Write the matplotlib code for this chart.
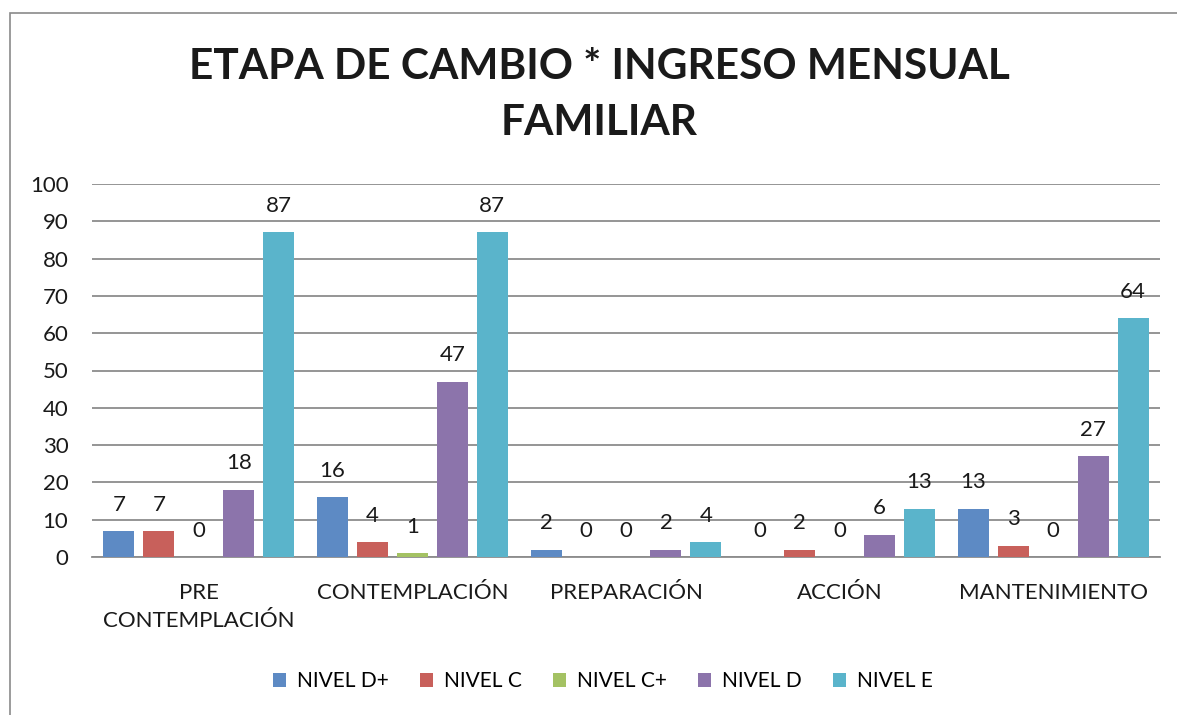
import matplotlib
matplotlib.use("Agg")
import matplotlib.pyplot as plt
from matplotlib.patches import Rectangle
import numpy as np

plt.rcParams['font.family'] = ['Lato', 'DejaVu Sans']

title = "ETAPA DE CAMBIO * INGRESO MENSUAL\nFAMILIAR"
categories = ["PRE\nCONTEMPLACIÓN", "CONTEMPLACIÓN", "PREPARACIÓN", "ACCIÓN", "MANTENIMIENTO"]
series_names = ["NIVEL D+", "NIVEL C", "NIVEL C+", "NIVEL D", "NIVEL E"]
nivel_d_plus = [7, 16, 2, 0, 13]
nivel_c = [7, 4, 0, 2, 3]
nivel_c_plus = [0, 1, 0, 0, 0]
nivel_d = [18, 47, 2, 6, 27]
nivel_e = [87, 87, 4, 13, 64]
yticks = list(range(0, 101, 10))

series = [nivel_d_plus, nivel_c, nivel_c_plus, nivel_d, nivel_e]
colors = ["#5D8AC4", "#C8605B", "#A4C263", "#8C74AB", "#5AB4CB"]

fig = plt.figure(figsize=(11.77, 7.15), dpi=100)
W, H = 1177, 715

# outer chart frame
fig.add_artist(Rectangle((10 / W, -0.1), 1.2, 1 - 13 / H + 0.1, transform=fig.transFigure,
                         fill=False, edgecolor="#8a8a8a", linewidth=1.2))

ax = fig.add_axes([92 / W, 1 - 557 / H, (1160 - 92) / W, (557 - 184) / H])
ax.set_facecolor("none")
x = np.arange(len(categories))
step = 0.187
width = 0.145
for i, (vals, name, c) in enumerate(zip(series, series_names, colors)):
    pos = x + (i - 2) * step
    bars = ax.bar(pos, vals, width=width, color=c, label=name, zorder=3)
    for xp, v in zip(pos, vals):
        ax.annotate(str(v), (xp, v), xytext=(0, 19), textcoords="offset points",
                    ha="center", va="center", fontsize=16, color="#1a1a1a")

ax.set_xlim(-0.5, 4.5)
ax.set_ylim(0, 100)
ax.set_yticks(yticks)
ax.yaxis.grid(True, color="#8c8c8c", linewidth=1.3, zorder=0)
ax.set_axisbelow(True)
for s in ["top", "right", "left"]:
    ax.spines[s].set_visible(False)
ax.spines["bottom"].set_color("#8c8c8c")
ax.spines["bottom"].set_linewidth(1.3)
ax.set_xticks(x)
ax.set_xticklabels(categories, fontsize=16, linespacing=1.45, color="#1a1a1a")
ax.tick_params(axis="x", length=0, pad=19)
ax.tick_params(axis="y", length=0, pad=17, labelsize=16, labelcolor="#1a1a1a")

fig.text(0.509, 1 - 95 / H, title, ha="center", va="center", fontsize=30.5,
         fontweight="bold", linespacing=1.6, color="#1a1a1a")

handles, labels = ax.get_legend_handles_labels()
fig.legend(handles, labels, loc="center", bbox_to_anchor=(0.512, 1 - 681 / H), ncol=5,
           frameon=False, fontsize=15, handlelength=0.65, handleheight=0.65,
           handletextpad=0.5, columnspacing=1.5)

fig.savefig("out.png", dpi=100)
